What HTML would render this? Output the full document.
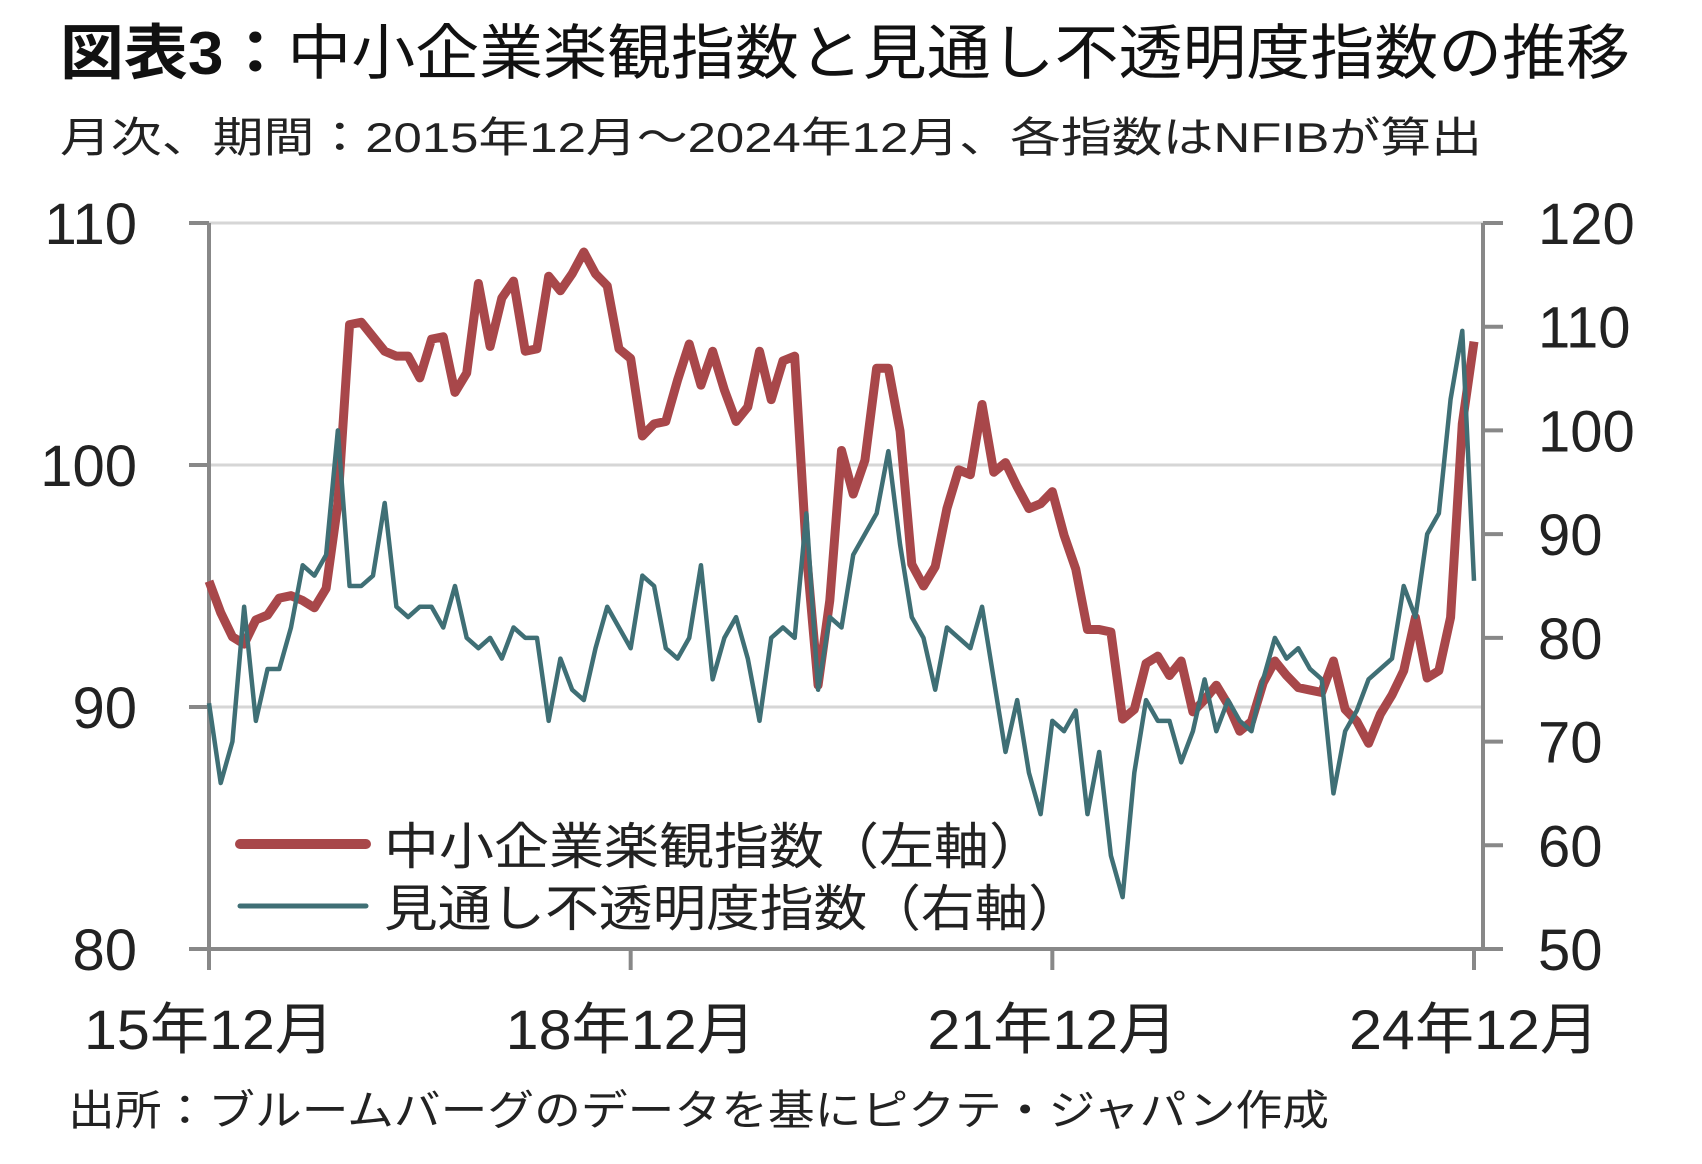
<!DOCTYPE html>
<html><head><meta charset="utf-8">
<style>
html,body{margin:0;padding:0;background:#fff;}
svg{display:block;font-family:"Liberation Sans","Noto Sans CJK JP",sans-serif;}
</style></head>
<body>
<svg id="chart" width="1702" height="1164" viewBox="0 0 1702 1164" xmlns="http://www.w3.org/2000/svg">
<text x="60" y="74" font-size="60" fill="#111" textLength="1570" lengthAdjust="spacingAndGlyphs"><tspan font-weight="bold">図表3：</tspan>中小企業楽観指数と見通し不透明度指数の推移</text>
<text x="60" y="152" font-size="42" fill="#222" textLength="1422" lengthAdjust="spacingAndGlyphs">月次、期間：2015年12月～2024年12月、各指数はNFIBが算出</text>
<g id="grid"></g>
<g id="axes"></g>
<g id="series"></g>
<g id="legend">
<line x1="240" y1="844" x2="366" y2="844" stroke="#a8474a" stroke-width="10" stroke-linecap="round"/>
<text x="384" y="864" font-size="50" fill="#222" textLength="660" lengthAdjust="spacingAndGlyphs">中小企業楽観指数（左軸）</text>
<line x1="240" y1="906" x2="366" y2="906" stroke="#3f6f75" stroke-width="5" stroke-linecap="round"/>
<text x="384" y="926" font-size="50" fill="#222" textLength="698" lengthAdjust="spacingAndGlyphs">見通し不透明度指数（右軸）</text>
</g>
<text x="68" y="1125" font-size="42" fill="#222" textLength="1261" lengthAdjust="spacingAndGlyphs">出所：ブルームバーグのデータを基にピクテ・ジャパン作成</text>
</svg>
<script>
const optimism = [95.2,
93.9,92.9,92.6,93.6,93.8,94.5,94.6,94.4,94.1,94.9,98.4,105.8,
105.9,105.3,104.7,104.5,104.5,103.6,105.2,105.3,103.0,103.8,107.5,104.9,
106.9,107.6,104.7,104.8,107.8,107.2,107.9,108.8,107.9,107.4,104.8,104.4,
101.2,101.7,101.8,103.5,105.0,103.3,104.7,103.1,101.8,102.4,104.7,102.7,
104.3,104.5,96.4,90.9,94.4,100.6,98.8,100.2,104.0,104.0,101.4,95.9,
95.0,95.8,98.2,99.8,99.6,102.5,99.7,100.1,99.1,98.2,98.4,98.9,
97.1,95.7,93.2,93.2,93.1,89.5,89.9,91.8,92.1,91.3,91.9,89.8,
90.3,90.9,90.1,89.0,89.4,91.0,91.9,91.3,90.8,90.7,90.6,91.9,
89.9,89.4,88.5,89.7,90.5,91.5,93.7,91.2,91.5,93.7,101.7,105.1];
const uncertainty = [73.7,66,70,83,72,77,77,81,87,86,88,100,85,85,86,93,83,82,83,83,81,85,80,79,80,78,81,80,80,72,78,75,74,79,83,81,79,86,85,79,78,80,87,76,80,82,78,72,80,81,80,92,75,82,81,88,90,92,98,89,82,80,75,81,80,79,83,76,69,74,67,63,72,71,73,63,69,59,55,67,74,72,72,68,71,76,71,74,72,71,76,80,78,79,77,76,65,71,73,76,77,78,85,82,90,92,103,109.6,85.5];
const leftTicks = [80,90,100,110];
const rightTicks = [50,60,70,80,90,100,110,120];
const xTickIndex = [0,36,72,108];
const xTickLabels = ["15年12月","18年12月","21年12月","24年12月"];

const NS="http://www.w3.org/2000/svg";
const L=209,R=1483,T=223,B=949,X0=209,X1=1474;
const xs=i=>X0+(X1-X0)*i/108;
const yl=v=>B-(v-80)/30*(B-T);
const yr=v=>B-(v-50)/70*(B-T);
function mk(tag,attrs,parent){const e=document.createElementNS(NS,tag);for(const k in attrs)e.setAttribute(k,attrs[k]);parent.appendChild(e);return e;}
const grid=document.getElementById('grid'),axes=document.getElementById('axes'),series=document.getElementById('series');
leftTicks.forEach(v=>{
  if(v!==80){const g=mk('line',{x1:L,x2:R,y1:yl(v),y2:yl(v),stroke:'#d6d6d6','stroke-width':3},grid);
  
  }
  const t=mk('line',{x1:189,x2:L,y1:yl(v),y2:yl(v),stroke:'#888','stroke-width':4},axes);
  
  
  const tx=mk('text',{x:137,y:yl(v)+21,'font-size':58,'text-anchor':'end',fill:'#222'},axes);tx.textContent=v;
  
  
});
rightTicks.forEach(v=>{
  const t=mk('line',{x1:R,x2:1503,y1:yr(v),y2:yr(v),stroke:'#888','stroke-width':4},axes);
  
  
  const tx=mk('text',{x:1538,y:yr(v)+21,'font-size':58,fill:'#222'},axes);tx.textContent=v;
  
  
});
const la=mk('line',{x1:L,x2:L,y1:T,y2:B,stroke:'#888','stroke-width':4},axes);


const ra=mk('line',{x1:R,x2:R,y1:T,y2:B,stroke:'#888','stroke-width':4},axes);


const xa=mk('line',{x1:189,x2:1503,y1:B,y2:B,stroke:'#888','stroke-width':4},axes);


xTickIndex.forEach((idx,k)=>{
  const t=mk('line',{x1:xs(idx),x2:xs(idx),y1:B,y2:970,stroke:'#888','stroke-width':4},axes);
  
  
  const tx=mk('text',{x:xs(idx),y:1049,'font-size':56,'text-anchor':'middle',fill:'#222',textLength:250,lengthAdjust:'spacingAndGlyphs'},axes);tx.textContent=xTickLabels[k];
  
  
});
const p1=mk('polyline',{points:optimism.map((v,i)=>xs(i)+','+yl(v)).join(' '),fill:'none',stroke:'#a8474a','stroke-width':9,'stroke-linejoin':'round'},series);


const p2=mk('polyline',{points:uncertainty.map((v,i)=>xs(i)+','+yr(v)).join(' '),fill:'none',stroke:'#3f6f75','stroke-width':4.5,'stroke-linejoin':'round'},series);


</script>
</body></html>
